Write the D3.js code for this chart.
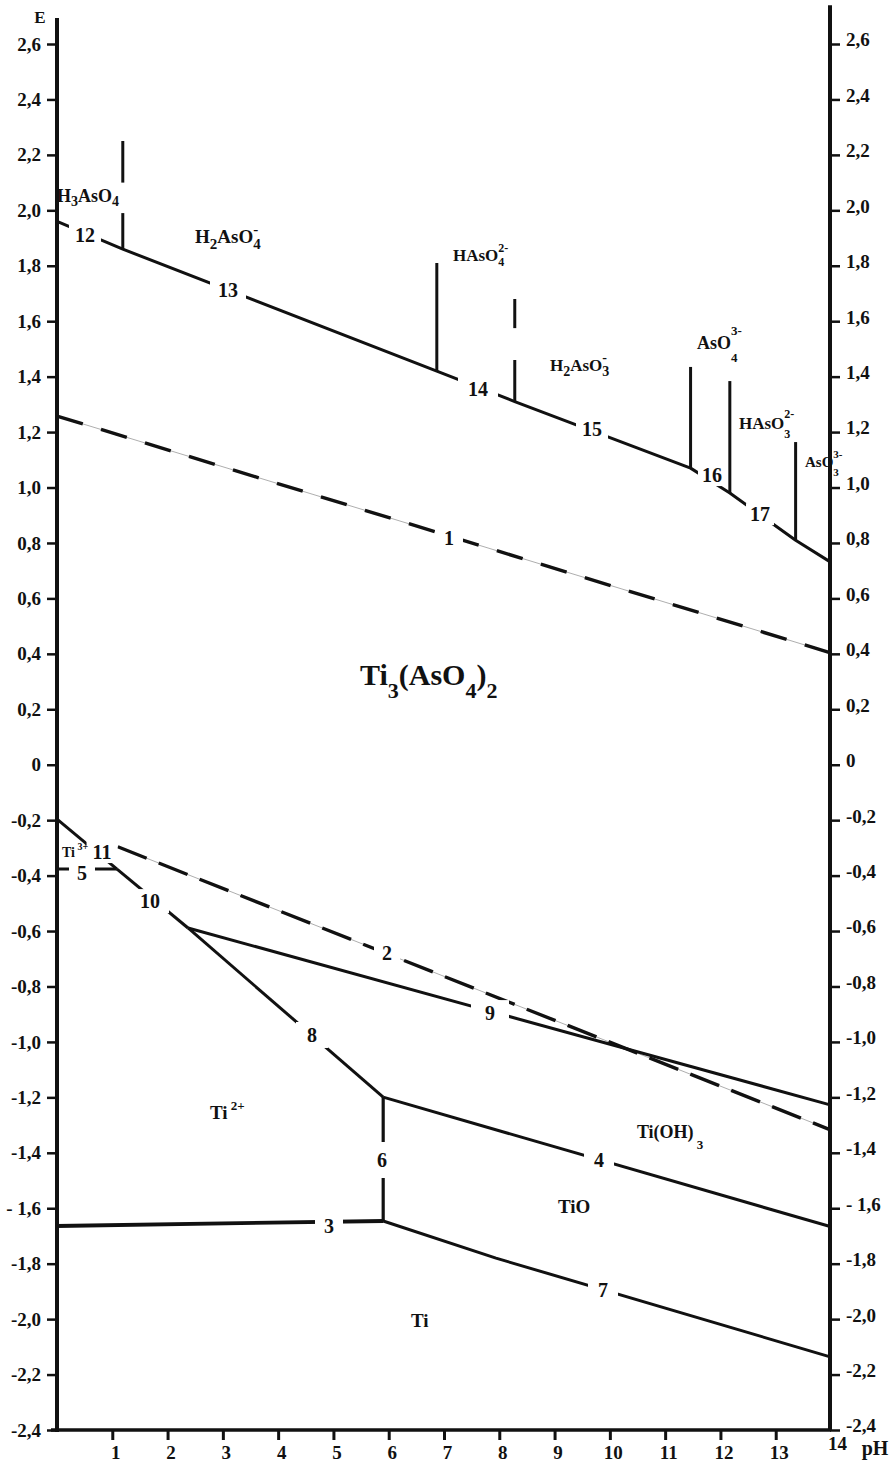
<!DOCTYPE html>
<html><head><meta charset="utf-8">
<script src="https://cdn.jsdelivr.net/npm/d3@7"></script>
<style>
body{margin:0;background:#fff}
svg text{font-family:"Liberation Serif","Times New Roman",serif;font-weight:bold;fill:#111}
</style>
</head><body>
<svg id="chart" width="895" height="1466"></svg>
<script>
// ---------- data ----------
const phTicks = [1,2,3,4,5,6,7,8,9,10,11,12,13,14];
const eTicks = [2.6,2.4,2.2,2.0,1.8,1.6,1.4,1.2,1.0,0.8,0.6,0.4,0.2,0,-0.2,-0.4,-0.6,-0.8,-1.0,-1.2,-1.4,-1.6,-1.8,-2.0,-2.2,-2.4];
const eTickLabels = ["2,6","2,4","2,2","2,0","1,8","1,6","1,4","1,2","1,0","0,8","0,6","0,4","0,2","0","-0,2","-0,4","-0,6","-0,8","-1,0","-1,2","-1,4","- 1,6","-1,8","-2,0","-2,2","-2,4"];

// arsenic boundary (lines 12-17), [pH, E]
const arsenicMain = [[0,1.96],[1.19,1.86],[6.87,1.42],[8.28,1.31],[11.46,1.07],[12.17,0.98],[13.36,0.81],[14,0.73]];
const arsenicVerticals = [
  [[1.19,2.25],[1.19,2.10]], [[1.19,1.99],[1.19,1.86]],
  [[6.87,1.81],[6.87,1.42]],
  [[8.28,1.68],[8.28,1.575]], [[8.28,1.46],[8.28,1.31]],
  [[11.46,1.435],[11.46,1.07]],
  [[12.17,1.384],[12.17,0.98]],
  [[13.36,1.164],[13.36,0.81]]
];
// water lines (dashed)
const line1 = [[0,1.258],[14,0.403]];
const line2 = [[1.1,-0.296],[14,-1.318]];
// titanium boundaries
const line11 = [[0,-0.196],[1.08,-0.376]];
const line5  = [[0,-0.376],[1.08,-0.376]];
const line10 = [[1.08,-0.376],[2.37,-0.589]];
const line9  = [[2.37,-0.589],[14,-1.228]];
const line8  = [[2.37,-0.589],[5.90,-1.199]];
const line6  = [[5.90,-1.199],[5.90,-1.646]];
const line3  = [[0,-1.664],[5.90,-1.646]];
const line4  = [[5.90,-1.199],[14,-1.667]];
const line7  = [[5.90,-1.646],[7.94,-1.780],[14,-2.137]];

// line number labels: [text, pH, E, padX, padY]
const lineLabels = [
  ["12",0.506,1.911,6,3],["13",3.093,1.713,8,3],["14",7.615,1.355,10,3],["15",9.677,1.211,6,3],
  ["16",11.847,1.045,4,2],["17",12.716,0.904,4,2],["1",7.09,0.818,9,4],
  ["11",0.814,-0.315,6,2],["5",0.452,-0.391,8,3],["10",1.682,-0.492,9,3],["2",5.969,-0.679,8,4],
  ["8",4.612,-0.975,11,4],["9",7.832,-0.896,14,4],["6",5.879,-1.426,4,9],["4",9.804,-1.426,10,4],
  ["3",4.92,-1.664,9,4],["7",9.876,-1.895,10,4]
];

// species labels: parts [text, kind], pH/E of left-centre
const speciesLabels = [
  {parts:[["H","n"],["3","sub"],["AsO","n"],["4","sub"]], pH:0.0, E:2.052, size:18, subRatio:0.8, sub:0.25},
  {parts:[["H","n"],["2","sub"],["AsO","n"],["-|4","stack"]], pH:2.496, E:1.904, size:19, subRatio:0.78, sub:0.3},
  {parts:[["HAsO","n"],["2-|4","stack"]], pH:7.163, E:1.839, size:17, subRatio:0.72, sub:0.3},
  {parts:[["H","n"],["2","sub"],["AsO","n"],["-|3","stack"]], pH:8.917, E:1.442, size:17, weight:"normal", subRatio:0.8, sub:0.3},
  {parts:[["AsO","n"],["3-|4","stack"]], pH:11.576, E:1.521, size:18, sup:0.8, sub:0.7},
  {parts:[["HAsO","n"],["2-|3","stack"]], pH:12.336, E:1.233, size:17, sup:0.6, sub:0.55},
  {parts:[["AsO","n"],["3-|3","stack"]], pH:13.53, E:1.092, size:15, sup:0.6, sub:0.6},
  {parts:[["Ti","n"],["3","sub"],["(AsO","n"],["4","sub"],[")","n"],["2","sub"]], pH:5.48, E:0.324, size:30, subSize:22, sub:0.45},
  {parts:[["Ti","n"],[" 3+","sup"]], pH:0.09, E:-0.318, size:14, weight:"normal"},
  {parts:[["Ti","n"],[" 2+","sup"]], pH:2.767, E:-1.256, size:19},
  {parts:[["Ti(OH)","n"],[" 3","sub"]], pH:10.49, E:-1.325, size:18, sub:0.6},
  {parts:[["TiO","n"]], pH:9.062, E:-1.596, size:19},
  {parts:[["Ti","n"]], pH:6.403, E:-2.007, size:19}
];

// axis extents (E units)
const leftAxisTop = 2.694, rightAxisTop = 2.74;

// ---------- drawing ----------
const svg = d3.select("#chart");
const x = d3.scaleLinear().domain([0,14]).range([57,831]);
const y = d3.scaleLinear().domain([-2.4,2.6]).range([1430,44]);
const line = d3.line().x(d=>x(d[0])).y(d=>y(d[1]));
const FONT = '"Liberation Serif","Times New Roman",serif';

const gLines = svg.append("g").attr("fill","none");

function drawSolid(data, w){
  gLines.append("path").datum(data).attr("d",line)
    .attr("stroke","#111").attr("stroke-width",w||3).attr("stroke-linejoin","round");
}
function drawDashed(data, dash){
  gLines.append("path").datum(data).attr("d",line)
    .attr("stroke","#999").attr("stroke-width",0.8);
  gLines.append("path").datum(data).attr("d",line)
    .attr("stroke","#111").attr("stroke-width",3.4).attr("stroke-dasharray",dash);
}

drawDashed(line1,"27,19");
drawDashed(line2,"31,13");
drawSolid(arsenicMain,3);
arsenicVerticals.forEach(v=>drawSolid(v,3));
[line11,line5,line10,line9,line8,line4].forEach(l=>drawSolid(l,3));
drawSolid(line6,3.2);
drawSolid(line3,3.8);
drawSolid(line7,3);

// line number labels with white gap
const gLab = svg.append("g");
lineLabels.forEach(([t,ph,e,px,py])=>{
  const g = gLab.append("g");
  const txt = g.append("text").attr("x",x(ph)).attr("y",y(e)+7)
    .attr("text-anchor","middle").attr("font-size",20).text(t);
  const b = txt.node().getBBox();
  g.insert("rect","text").attr("x",b.x-px).attr("y",b.y+2-py)
    .attr("width",b.width+2*px).attr("height",b.height-4+2*py).attr("fill","#fff");
});

// species labels
speciesLabels.forEach(s=>{
  const size = s.size, subSize = s.subSize || Math.round(size*(s.subRatio||0.7));
  const supK = s.sup || 0.5, subK = s.sub || 0.4;
  const t = svg.append("text").attr("x",x(s.pH)).attr("y",y(s.E)+size*0.33)
    .attr("font-size",size).attr("font-weight",s.weight||"bold");
  let cur = 0;
  s.parts.forEach(([txt,kind])=>{
    if(kind==="n"){
      t.append("tspan").attr("dy",-cur).attr("font-size",size).text(txt); cur=0;
    } else if(kind==="sub"){
      const target = subK*size;
      t.append("tspan").attr("dy",target-cur).attr("font-size",subSize).text(txt); cur=target;
    } else if(kind==="sup"){
      const target = -supK*size;
      t.append("tspan").attr("dy",target-cur).attr("font-size",subSize).text(txt); cur=target;
    } else if(kind==="stack"){
      const [sp,sb] = txt.split("|");
      const tSup = -supK*size, tSub = subK*size;
      const a = t.append("tspan").attr("dy",tSup-cur).attr("font-size",subSize).text(sp);
      const wA = a.node().getComputedTextLength();
      t.append("tspan").attr("dx",-wA).attr("dy",tSub-tSup).attr("font-size",subSize).text(sb);
      cur = tSub;
    }
  });
});

// ---------- axes ----------
const gAx = svg.append("g");
// left axis
const leftAxis = d3.axisLeft(y).tickValues(eTicks).tickSize(10).tickSizeOuter(0)
  .tickFormat((d,i)=>eTickLabels[i]).tickPadding(4);
const gl = gAx.append("g").attr("transform",`translate(${x(0)},0)`).call(leftAxis);
gl.select(".domain").remove();
gl.selectAll(".tick line").attr("stroke","#111").attr("stroke-width",2.5);
gl.selectAll(".tick text").attr("font-size",19).attr("fill","#111")
  .attr("font-family",FONT).attr("font-weight","bold").attr("dx",-2);
gAx.append("line").attr("x1",x(0)).attr("x2",x(0)).attr("y1",y(leftAxisTop)).attr("y2",y(-2.4)+2)
  .attr("stroke","#111").attr("stroke-width",4);

// right axis
const rightAxis = d3.axisRight(y).tickValues(eTicks).tickSize(10).tickSizeOuter(0)
  .tickFormat((d,i)=>eTickLabels[i]).tickPadding(6);
const gr = gAx.append("g").attr("transform",`translate(${x(14)-1},0)`).call(rightAxis);
gr.select(".domain").remove();
gr.selectAll(".tick line").attr("stroke","#111").attr("stroke-width",2.5);
gr.selectAll(".tick text").attr("font-size",19).attr("fill","#111")
  .attr("font-family",FONT).attr("font-weight","bold").attr("dy","0.1em");
gAx.append("line").attr("x1",x(14)-1).attr("x2",x(14)-1).attr("y1",y(rightAxisTop)).attr("y2",y(-2.4))
  .attr("stroke","#111").attr("stroke-width",4);

// bottom axis
const bottomAxis = d3.axisBottom(x).tickValues(phTicks).tickSize(10).tickSizeOuter(0).tickPadding(8);
const gb = gAx.append("g").attr("transform",`translate(0,${y(-2.4)})`).call(bottomAxis);
gb.select(".domain").remove();
gb.selectAll(".tick line").attr("stroke","#111").attr("stroke-width",3)
  .attr("opacity",d=>d===14?0:1);
gb.selectAll(".tick text").attr("font-size",19).attr("fill","#111")
  .attr("font-family",FONT).attr("font-weight","bold")
  .attr("dx",d=>d===14?6:3).attr("dy",d=>d===14?"0.1em":"0.6em");
gAx.append("line").attr("x1",x(0)-6).attr("x2",x(14)).attr("y1",y(-2.4)).attr("y2",y(-2.4))
  .attr("stroke","#111").attr("stroke-width",3.5);

// axis titles
svg.append("text").attr("x",x(0)-17).attr("y",y(leftAxisTop)+5).attr("text-anchor","middle")
  .attr("font-size",17).text("E");
svg.append("text").attr("x",x(14)+44).attr("y",y(-2.4)+25).attr("text-anchor","middle")
  .attr("font-size",20).text("pH");
</script>
</body></html>
